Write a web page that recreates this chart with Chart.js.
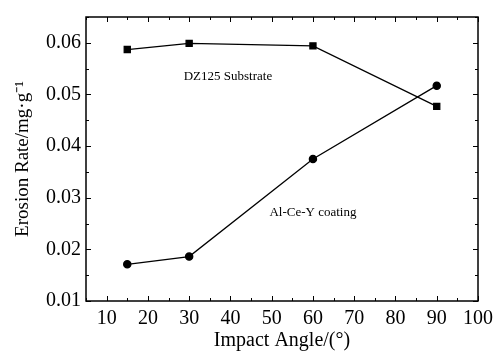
<!DOCTYPE html>
<html>
<head>
<meta charset="utf-8">
<script src="https://cdn.jsdelivr.net/npm/chart.js@4"></script>
<style>
  html, body { margin: 0; padding: 0; background: #fff; }
  #wrap { width: 501px; height: 354px; }
</style>
</head>
<body>
<div id="wrap"><canvas id="chart"></canvas></div>
<script>
const angles = [15, 30, 60, 90];
const substrate = [0.0587, 0.0599, 0.0594, 0.0477];
const coating = [0.0171, 0.0186, 0.0375, 0.0517];
const xTicks = [10, 20, 30, 40, 50, 60, 70, 80, 90, 100];
const yTicks = [0.01, 0.02, 0.03, 0.04, 0.05, 0.06];

const FONT = "'Liberation Serif', 'Times New Roman', serif";

// inward ticks on all four sides plus the frame
const frame = {
  id: 'frame',
  afterDraw(chart) {
    const { ctx, chartArea: a, scales } = chart;
    const x = scales.x, y = scales.y;
    ctx.save();
    ctx.strokeStyle = '#000';
    ctx.lineWidth = 1.5;
    ctx.strokeRect(a.left, a.top, a.right - a.left, a.bottom - a.top);
    ctx.lineWidth = 1;
    ctx.beginPath();
    for (let v = 5; v <= 100; v += 5) {
      const px = Math.round(x.getPixelForValue(v)) + 0.5;
      const len = v % 10 === 0 ? 5 : 3;
      ctx.moveTo(px, a.bottom); ctx.lineTo(px, a.bottom - len);
      ctx.moveTo(px, a.top); ctx.lineTo(px, a.top + len);
    }
    for (let i = 2; i <= 13; i++) {
      const v = i * 0.005;
      const py = Math.round(y.getPixelForValue(v)) + 0.5;
      const len = i % 2 === 0 ? 5 : 3;
      ctx.moveTo(a.left, py); ctx.lineTo(a.left + len, py);
      ctx.moveTo(a.right, py); ctx.lineTo(a.right - len, py);
    }
    ctx.stroke();

    ctx.fillStyle = '#000';
    ctx.font = '13px ' + FONT;
    ctx.textAlign = 'center';
    ctx.textBaseline = 'middle';
    ctx.fillText('DZ125 Substrate', x.getPixelForValue(39.4), y.getPixelForValue(0.0534));
    ctx.fillText('Al-Ce-Y coating', x.getPixelForValue(60), y.getPixelForValue(0.0272));
    ctx.restore();
  }
};

new Chart(document.getElementById('chart'), {
  type: 'line',
  data: {
    datasets: [
      {
        label: 'DZ125 Substrate',
        data: angles.map((a, i) => ({ x: a, y: substrate[i] })),
        borderColor: '#000',
        backgroundColor: '#000',
        borderWidth: 1.3,
        pointStyle: 'rect',
        pointRadius: 4.3,
        tension: 0
      },
      {
        label: 'Al-Ce-Y coating',
        data: angles.map((a, i) => ({ x: a, y: coating[i] })),
        borderColor: '#000',
        backgroundColor: '#000',
        borderWidth: 1.3,
        pointStyle: 'circle',
        pointRadius: 3.6,
        tension: 0
      }
    ]
  },
  options: {
    responsive: true,
    maintainAspectRatio: false,
    animation: false,
    layout: { padding: { left: 0, right: 23, top: 11, bottom: 0 } },
    plugins: {
      legend: { display: false },
      tooltip: { enabled: false }
    },
    scales: {
      x: {
        type: 'linear',
        min: 5,
        max: 100,
        afterBuildTicks: (s) => { s.ticks = xTicks.map(v => ({ value: v })); },
        afterFit: (s) => { s.height = 53; },
        grid: { display: false, drawTicks: false },
        border: { display: false },
        ticks: { color: '#000', font: { family: FONT, size: 20 }, padding: 6, maxRotation: 0 },
        title: { display: true, text: 'Impact Angle/(°)', color: '#000', font: { family: FONT, size: 20 }, padding: { top: 0, bottom: 1 } }
      },
      y: {
        min: 0.01,
        max: 0.065,
        afterBuildTicks: (s) => { s.ticks = yTicks.map(v => ({ value: v })); },
        afterFit: (s) => { s.width = 86; },
        grid: { display: false, drawTicks: false },
        border: { display: false },
        ticks: { color: '#000', font: { family: FONT, size: 20 }, padding: 5, callback: (v) => v.toFixed(2) },
        title: { display: true, text: 'Erosion Rate/mg·g⁻¹', color: '#000', font: { family: FONT, size: 19 }, padding: { top: 12, bottom: 2 } }
      }
    }
  },
  plugins: [frame]
});
</script>
</body>
</html>
